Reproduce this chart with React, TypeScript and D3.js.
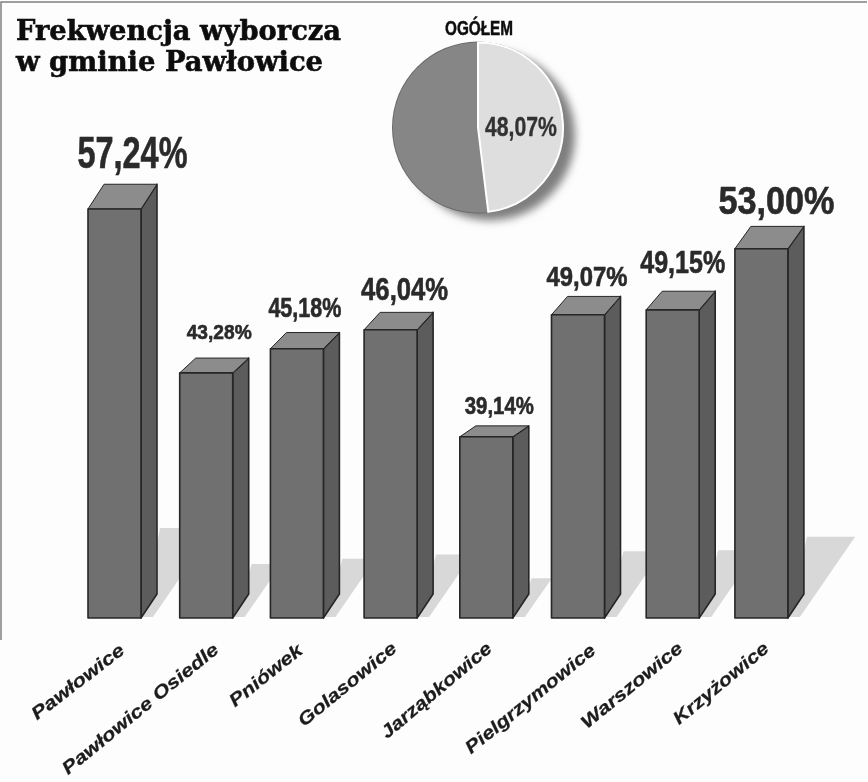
import React from "react";
import * as d3 from "d3";

const categories = ["Pawłowice", "Pawłowice Osiedle", "Pniówek", "Golasowice", "Jarząbkowice", "Pielgrzymowice", "Warszowice", "Krzyżowice"];
const turnoutLabels = ["57,24%", "43,28%", "45,18%", "46,04%", "39,14%", "49,07%", "49,15%", "53,00%"];
// Heights as drawn in the source graphic (it does not follow the printed numbers exactly)
const drawnValues = [57.24, 44.24, 46.15, 47.66, 39.17, 48.85, 49.24, 54.09];
const overallValue = 48.07;
const overallLabel = "48,07%";
const overallTitle = "OGÓŁEM";
const titleLines = ["Frekwencja wyborcza", "w gminie Pawłowice"];

// layout tuning, not data
const barNudge = [0, -1, -3, -2, 1, 0, 2, -2];
const labelDx = [10, 5, 0, 6, 5, 1, 2, 7];
const labelGap = [16, 19, 16, 12, 12, 10, 18, 12];
const labelWidth = [110, 65, 73, 87, 69, 81, 85, 116];
const labelSize = [44, 21, 27, 31, 24, 28, 31, 38];
const tickEnds: [number, number][] = [[125, 645], [219, 644], [303, 645], [397, 643], [492, 643], [596, 645], [683, 643], [769, 643]];
const tickStarts: [number, number][] = [[30, 718], [61, 773], [228, 705], [297, 725], [380, 737], [464, 752], [580, 727], [672, 723]];

const baseY = 618;
const x = d3.scaleBand<string>().domain(categories).range([88, 88 + 92.7 * 8]).paddingInner(0);
const y = d3.scaleLinear().domain([24.8, 57.24]).range([baseY, 209]);
const frontW = 53;
const sideW = 16;
const line = d3.line<[number, number]>();
const NARROW = "'Liberation Sans Narrow','Liberation Sans',sans-serif";

const pieCx = 478, pieCy = 127.5, pieR = 85;
const pieSlices = d3.pie<number>().sort(null)([overallValue, 100 - overallValue]);
const arc = d3.arc<d3.PieArcDatum<number>>().innerRadius(0).outerRadius(pieR);

export default function App() {
  const bars = categories.map((c, i) => {
    const x0 = (x(c) as number) + barNudge[i];
    const top = y(drawnValues[i]);
    const h = baseY - top;
    const dy = h * 0.0605;
    const x1 = x0 + frontW;
    const x2 = x1 + sideW;
    return { c, i, x0, x1, x2, top, h, dy };
  });
  return (
    <svg width={868} height={782} viewBox="0 0 868 782" style={{ position: "absolute", left: 0, top: 0, display: "block", background: "#fff" }}>
      <defs>
        <filter id="scan" x="-2%" y="-2%" width="104%" height="104%"><feGaussianBlur stdDeviation="0.7" /></filter>
        <filter id="soft" x="-20%" y="-20%" width="140%" height="140%"><feGaussianBlur stdDeviation="4" /></filter>
      </defs>
      <rect width={868} height={782} fill="#fdfdfd" />
      <g filter="url(#scan)">
        <path d="M1,640V2H867" fill="none" stroke="#808080" strokeWidth={1.5} />
        {titleLines.map((t, i) => (
          <text key={t} x={16} y={40 + i * 31} fontFamily="'DejaVu Serif',serif" fontWeight="bold" fontSize={27}
            stroke="#111" strokeWidth={0.6}
            textLength={i === 0 ? 325 : 307} lengthAdjust="spacingAndGlyphs" fill="#111">{t}</text>
        ))}

        {bars.map(b => {
          const sh = b.h * 0.22;
          const yt = baseY - sh;
          return (
            <path key={b.c} fill="#d8d8d8" d={line([
              [b.x1 + 2, baseY - 1], [b.x2 - 4, baseY - 1],
              [b.x2 - 4 + sh * 0.68, yt], [b.x2 + 3, yt],
            ]) + "Z"} />
          );
        })}

        {bars.map(b => (
          <g key={b.c} stroke="#262626" strokeWidth={1.6} strokeLinejoin="round">
            <path fill="#5c5c5c" d={line([[b.x1, b.top], [b.x2, b.top - b.dy], [b.x2, baseY - 24], [b.x1, baseY]]) + "Z"} />
            <path fill="#8c8c8c" strokeWidth={1} d={line([[b.x0, b.top], [b.x0 + sideW, b.top - b.dy], [b.x2, b.top - b.dy], [b.x1, b.top]]) + "Z"} />
            <rect x={b.x0} y={b.top} width={frontW} height={b.h} fill="#6f6f6f" />
          </g>
        ))}

        {bars.map(b => (
          <text key={b.c} x={(b.x0 + b.x2) / 2 + labelDx[b.i]} y={b.top - b.dy - labelGap[b.i]} textAnchor="middle"
            fontFamily={NARROW} fontWeight="bold" fontSize={labelSize[b.i]} fill="#2a2a2a" stroke="#2a2a2a" strokeWidth={0.6}
            textLength={labelWidth[b.i]} lengthAdjust="spacingAndGlyphs">{turnoutLabels[b.i]}</text>
        ))}

        {categories.map((c, i) => {
          const [sx, sy] = tickStarts[i], [ex, ey] = tickEnds[i];
          const len = Math.hypot(ex - sx, ey - sy);
          const ang = Math.atan2(ey - sy, ex - sx) * 180 / Math.PI;
          return (
            <text key={c} transform={`translate(${(sx + ex) / 2},${(sy + ey) / 2}) rotate(${ang})`} textAnchor="middle" dy="0.35em"
              fontFamily="'Liberation Sans',sans-serif" fontWeight="bold" fontStyle="italic" fontSize={18} fill="#1c1c1c"
              stroke="#1c1c1c" strokeWidth={0.25}
              textLength={len - 8} lengthAdjust="spacingAndGlyphs">{c}</text>
          );
        })}

        <circle cx={pieCx + 12} cy={pieCy + 8} r={pieR} fill="#7e7e7e" filter="url(#soft)" />
        <g transform={`translate(${pieCx},${pieCy})`}>
          <circle r={pieR + 1} fill="#6a6a6a" />
          <path d={arc(pieSlices[1]) as string} fill="#868686" />
          <path d={arc(pieSlices[0]) as string} fill="#dedede" stroke="#fff" strokeWidth={2} />
        </g>
        <text x={479} y={35} textAnchor="middle" fontFamily={NARROW} fontWeight="bold" fontSize={20} fill="#111" stroke="#111" strokeWidth={0.5}
          textLength={68} lengthAdjust="spacingAndGlyphs">{overallTitle}</text>
        <text x={521} y={136} textAnchor="middle" fontFamily={NARROW} fontWeight="bold" fontSize={28} fill="#333" stroke="#333" strokeWidth={0.4}
          textLength={72} lengthAdjust="spacingAndGlyphs">{overallLabel}</text>
      </g>
    </svg>
  );
}
